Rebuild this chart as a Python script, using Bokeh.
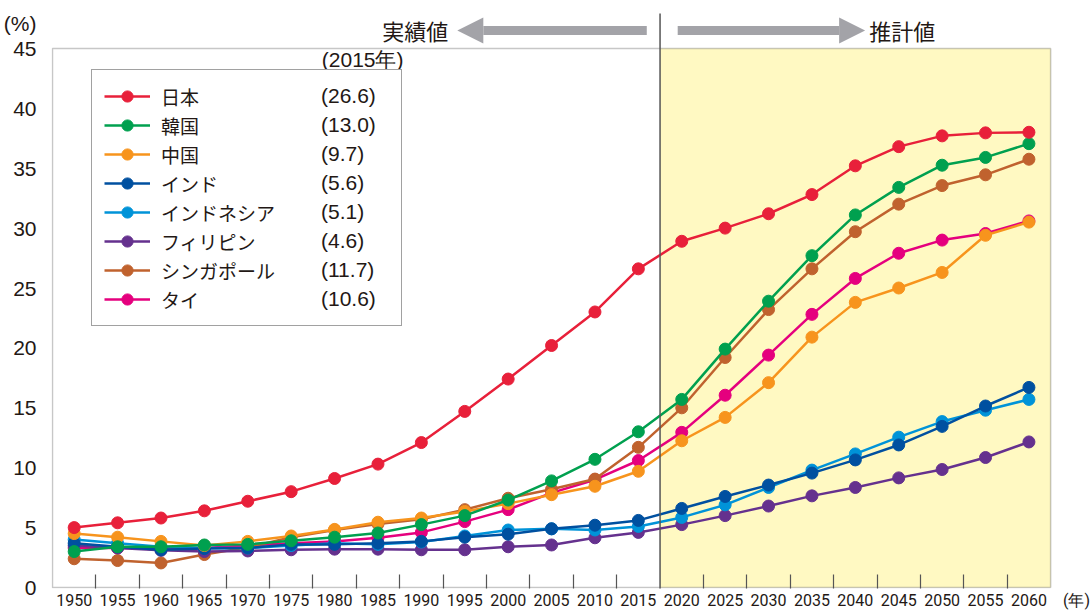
from bokeh.plotting import figure
from bokeh.models import (FixedTicker, Legend, LegendItem, Label, Arrow, NormalHead,
                          BoxAnnotation, Range1d)
from bokeh.embed import file_html
from bokeh.resources import INLINE

years = [1950, 1955, 1960, 1965, 1970, 1975, 1980, 1985, 1990, 1995, 2000, 2005,
         2010, 2015, 2020, 2025, 2030, 2035, 2040, 2045, 2050, 2055, 2060]

japan = [5.0, 5.4, 5.8, 6.4, 7.2, 8.0, 9.1, 10.3, 12.1, 14.7, 17.4, 20.2,
         23.0, 26.6, 28.9, 30.0, 31.2, 32.8, 35.2, 36.8, 37.7, 37.95, 38.0]
korea = [3.0, 3.4, 3.4, 3.55, 3.6, 3.9, 4.2, 4.55, 5.25, 6.0, 7.3, 8.9,
         10.7, 13.0, 15.7, 19.9, 23.9, 27.7, 31.1, 33.4, 35.25, 35.9, 37.05]
china = [4.5, 4.2, 3.85, 3.5, 3.85, 4.3, 4.85, 5.45, 5.8, 6.35, 7.0, 7.75,
         8.45, 9.7, 12.25, 14.2, 17.1, 20.9, 23.8, 25.0, 26.3, 29.4, 30.5]
india = [3.7, 3.4, 3.15, 3.25, 3.3, 3.6, 3.6, 3.7, 3.85, 4.2, 4.45, 4.9,
         5.2, 5.6, 6.6, 7.6, 8.55, 9.55, 10.65, 11.9, 13.45, 15.15, 16.7]
indonesia = [4.0, 3.7, 3.4, 3.3, 3.3, 3.5, 3.7, 3.6, 3.8, 4.3, 4.8, 4.9,
             4.8, 5.1, 5.85, 6.9, 8.35, 9.8, 11.15, 12.55, 13.85, 14.8, 15.7]
philippines = [3.5, 3.3, 3.1, 3.0, 3.05, 3.15, 3.2, 3.2, 3.15, 3.15, 3.4, 3.55,
               4.15, 4.6, 5.25, 6.0, 6.8, 7.65, 8.35, 9.15, 9.85, 10.85, 12.15]
singapore = [2.4, 2.25, 2.05, 2.75, 3.35, 4.2, 4.8, 5.3, 5.7, 6.5, 7.45, 8.2,
             9.05, 11.7, 15.0, 19.2, 23.2, 26.6, 29.7, 32.0, 33.55, 34.45, 35.75]
thailand = [3.3, 3.3, 3.3, 3.3, 3.5, 3.7, 3.85, 4.15, 4.6, 5.5, 6.5, 7.9,
            9.0, 10.6, 12.95, 16.05, 19.4, 22.8, 25.8, 27.9, 29.0, 29.55, 30.6]

names = ["日本", "韓国", "中国", "インド", "インドネシア", "フィリピン", "シンガポール", "タイ"]
values_2015 = ["(26.6)", "(13.0)", "(9.7)", "(5.6)", "(5.1)", "(4.6)", "(11.7)", "(10.6)"]
series = [japan, korea, china, india, indonesia, philippines, singapore, thailand]
colors = ["#E8203A", "#00A04F", "#F7941D", "#0050A0", "#0093D8", "#65318E", "#C0622E", "#E5007E"]
y_ticks = [0, 5, 10, 15, 20, 25, 30, 35, 40, 45]

TXT = "#231815"
JP = "Noto Sans CJK JP"

# chart box placement on the canvas (pixels)
BL, BR, BT, BB = 49, 1050, 48, 588
X0, X1 = years[0] - 2.5, years[-1] + 2.5
Y0, Y1 = 0, 45
W, H = 1092, 612


def px2x(px):
    return X0 + (px - BL) / (BR - BL) * (X1 - X0)


def py2y(py):
    return Y0 + (BB - py) / (BB - BT) * (Y1 - Y0)


p = figure(width=W, height=H, output_backend="svg", toolbar_location=None,
           x_range=Range1d(px2x(BL - 1), px2x(W)), y_range=Range1d(py2y(BB + 1), py2y(0)),
           min_border_left=BL - 1, min_border_right=0, min_border_top=0,
           min_border_bottom=H - (BB + 1))
p.xgrid.visible = False
p.ygrid.visible = False
p.outline_line_color = None
p.background_fill_color = "white"
p.border_fill_color = "white"

split = (2015 + 2020) / 2

# forecast shading and chart box
p.add_layout(BoxAnnotation(left=split, right=X1, bottom=Y0, top=Y1, fill_color="#FFF9C2",
                           fill_alpha=1.0, line_color=None, level="underlay"))
p.add_layout(BoxAnnotation(left=X0, right=X1, bottom=Y0, top=Y1, fill_alpha=0,
                           line_color="#444444", line_width=1.5, level="underlay"))

# x axis: labels at category centres, ticks at category boundaries
x_unit = px2x(1076)
p.xaxis.ticker = FixedTicker(ticks=years + [x_unit],
                             minor_ticks=[y + 2.5 for y in years[:-1] if y != 2015])
p.xaxis.major_label_overrides = {x_unit: "(年)"}
p.xaxis.axis_label = None
p.xaxis.major_tick_line_color = None
p.xaxis.major_tick_out = 0
p.xaxis.minor_tick_in = 14
p.xaxis.minor_tick_out = 0
p.xaxis.minor_tick_line_color = "#555555"
p.xaxis.minor_tick_line_width = 1.2
p.xaxis.axis_line_color = None
p.xaxis.major_label_text_font = "Roboto"
p.xaxis.major_label_text_font_size = "16px"
p.xaxis.major_label_text_color = TXT
p.xaxis.major_label_standoff = 2

# y axis
y_unit = round(py2y(23), 2)
p.yaxis.ticker = FixedTicker(ticks=y_ticks + [y_unit])
p.yaxis.major_label_overrides = {y_unit: "(%)"}
p.yaxis.major_tick_line_color = None
p.yaxis.minor_tick_line_color = None
p.yaxis.axis_line_color = None
p.yaxis.major_label_text_font = "Liberation Sans"
p.yaxis.major_label_text_font_size = "21px"
p.yaxis.major_label_text_color = TXT
p.yaxis.major_label_standoff = 9

# series (drawn bottom-up, reversed legend order)
renderers = {}
for i in reversed(range(len(names))):
    l = p.line(years, series[i], line_color=colors[i], line_width=2.5)
    s = p.scatter(years, series[i], size=12, fill_color=colors[i], line_color=colors[i])
    renderers[i] = [l, s]

# invisible renderer that carries the 2015 values in a second legend column
blank = p.scatter(x=[], y=[], size=1, fill_alpha=0, line_alpha=0)

# divider line
p.add_layout(Arrow(end=None, x_start=split, x_end=split, y_start=py2y(BB + 2), y_end=py2y(13),
                   line_color="#555555", line_width=1.5))

# top arrows
gray = "#A3A3A8"
p.add_layout(Arrow(end=NormalHead(size=26, fill_color=gray, line_color=gray, line_width=0),
                   x_start=px2x(645), x_end=px2x(455), y_start=py2y(30), y_end=py2y(30),
                   line_color=gray, line_width=9))
p.add_layout(Arrow(end=NormalHead(size=26, fill_color=gray, line_color=gray, line_width=0),
                   x_start=px2x(676), x_end=px2x(864), y_start=py2y(30), y_end=py2y(30),
                   line_color=gray, line_width=9))
p.add_layout(Label(x=px2x(446), y=py2y(30), text="実績値", text_align="right",
                   text_baseline="middle", text_font=JP, text_font_size="22px", text_color=TXT))
p.add_layout(Label(x=px2x(868), y=py2y(30), text="推計値", text_align="left",
                   text_baseline="middle", text_font=JP, text_font_size="22px", text_color=TXT))
p.add_layout(Label(x=px2x(401), y=py2y(59), text="(2015年)", text_align="right",
                   text_baseline="middle", text_font="Liberation Sans", text_font_size="21px",
                   text_color=TXT))

# legend (names) and a second, frameless legend column for the 2015 values
LEG_BOTTOM = 327
common = dict(margin=0, padding=12, glyph_height=28, label_height=28, spacing=1,
              label_text_color=TXT)
items = [LegendItem(label=names[i], renderers=renderers[i]) for i in range(len(names))]
legend = Legend(items=items, location=(88 - (BL - 1), (BB + 1) - LEG_BOTTOM),
                glyph_width=46, label_standoff=11, label_width=228,
                label_text_font=JP, label_text_font_size="19px",
                border_line_color="#444444", border_line_width=1.5,
                background_fill_color="white", background_fill_alpha=1.0, **common)
p.add_layout(legend, "center")

vitems = [LegendItem(label=v, renderers=[blank]) for v in values_2015]
vlegend = Legend(items=vitems, location=(320 - 13 - (BL - 1) + 10, (BB + 1) - LEG_BOTTOM + 13),
                 glyph_width=1, label_standoff=0, label_width=60,
                 label_text_font="Liberation Sans", label_text_font_size="21px",
                 border_line_color=None, background_fill_alpha=0.0, **common)
p.add_layout(vlegend, "center")

open("out.html", "w").write(file_html(p, INLINE))
